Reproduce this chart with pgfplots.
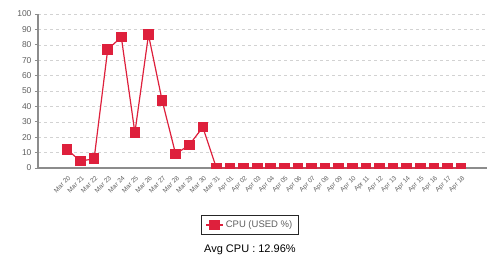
\documentclass[border=0pt]{standalone}
\usepackage{pgfplots}
\pgfplotsset{compat=1.18}
\usepackage{fontspec}
\setmainfont{Liberation Sans}
\definecolor{cpured}{RGB}{222,32,60}
\definecolor{axgray}{RGB}{140,140,140}
\definecolor{txtgray}{RGB}{95,95,95}
\begin{document}
\begin{tikzpicture}
\begin{axis}[
  scale only axis, width=449pt, height=154pt,
  xmin=-2.13, xmax=30.91, ymin=0, ymax=100,
  axis x line*=bottom, axis y line*=left,
  ytick={0,10,...,100},
  xtick={0,...,29},
  xticklabels={Mar 20,Mar 21,Mar 22,Mar 23,Mar 24,Mar 25,Mar 26,Mar 27,Mar 28,Mar 29,Mar 30,Mar 31,Apr 01,Apr 02,Apr 03,Apr 04,Apr 05,Apr 06,Apr 07,Apr 08,Apr 09,Apr 10,Apr 11,Apr 12,Apr 13,Apr 14,Apr 15,Apr 16,Apr 17,Apr 18},
  x tick label style={rotate=45, anchor=north east, font=\fontsize{6.5}{7}\selectfont, text=txtgray, inner sep=1pt, xshift=-1.5pt, yshift=-2.5pt},
  y tick label style={font=\fontsize{8.5}{10}\selectfont, text=txtgray},
  /pgf/number format/assume math mode=true,
  ymajorgrids, grid style={dashed, dash pattern=on 3pt off 3pt, color=gray!35, line width=0.6pt},
  axis line style={axgray, line width=1.5pt},
  tick align=outside, major tick length=3pt,
  tick style={axgray, line width=0.8pt},
  xtick style={draw=none},
  clip marker paths=true,
  legend style={at={(axis description cs:0.472,-0.37)}, anchor=center, draw=black!85, line width=0.8pt, font=\fontsize{9.5}{11}\selectfont, text=txtgray, inner xsep=4pt, inner ysep=3.5pt},
]
\addplot[color=cpured, line width=1.2pt, mark=square*, mark size=4.8pt, mark options={fill=cpured, line width=0pt}] coordinates {
(0,12) (1,4.5) (2,6) (3,77) (4,85) (5,23) (6,86.5) (7,44) (8,9) (9,15) (10,26.5) (11,0)
(12,0) (13,0) (14,0) (15,0) (16,0) (17,0) (18,0) (19,0) (20,0) (21,0) (22,0) (23,0) (24,0) (25,0) (26,0) (27,0) (28,0) (29,0)
};
\addlegendentry{CPU (USED \%)}
\coordinate (avg) at (axis description cs:0.472,-0.53);
\end{axis}
\node[font=\fontsize{11}{13}\selectfont, text=black] at (avg) {Avg CPU : 12.96\%};
\pgfresetboundingbox
\path ([xshift=-38pt,yshift=-90pt]current axis.south west) rectangle ([yshift=14pt]current axis.north east);
\end{tikzpicture}
\end{document}
